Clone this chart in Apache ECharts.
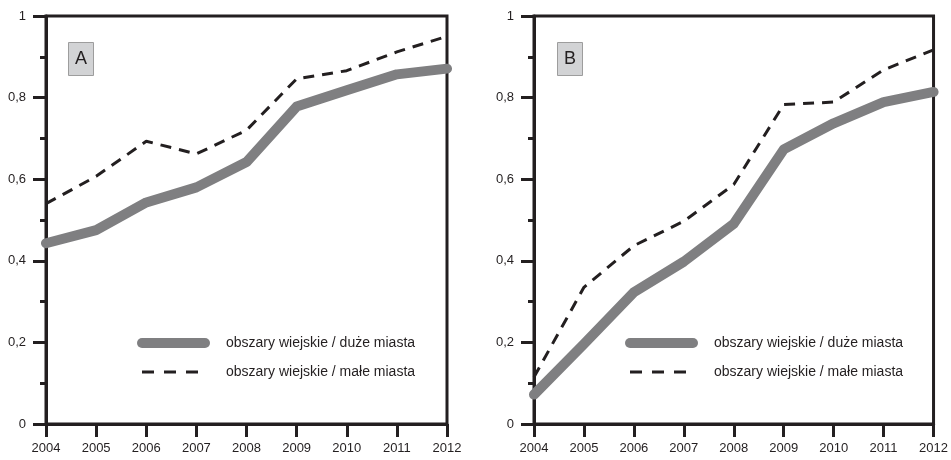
<!DOCTYPE html>
<html>
<head>
<meta charset="utf-8">
<script src="https://cdn.jsdelivr.net/npm/echarts@6/dist/echarts.min.js"></script>
<style>
  html, body { margin: 0; padding: 0; background: #fff; }
  #main { width: 951px; height: 460px; }
</style>
</head>
<body>
<div id="main"></div>
<script>
// lata na osi x
var years = ['2004', '2005', '2006', '2007', '2008', '2009', '2010', '2011', '2012']
// nazwy serii
var nameDuze = 'obszary wiejskie / duże miasta'
var nameMale = 'obszary wiejskie / małe miasta'
// panel A
var aDuze = [0.443, 0.475, 0.543, 0.580, 0.642, 0.778, 0.818, 0.857, 0.871]
var aMale = [0.540, 0.607, 0.693, 0.662, 0.720, 0.846, 0.866, 0.912, 0.950]
// panel B
var bDuze = [0.072, 0.196, 0.323, 0.398, 0.491, 0.673, 0.737, 0.789, 0.814]
var bMale = [0.115, 0.335, 0.437, 0.497, 0.587, 0.783, 0.789, 0.868, 0.917]
// etykiety paneli
var panelLabels = ['A', 'B']

var ink = '#231f20'
var gray = '#7f7f81'
var font = 'Liberation Sans, Arial, sans-serif'

var grids = [
  { left: 46, top: 16, width: 401, height: 408 },
  { left: 534, top: 16, width: 400, height: 408 }
]

function makeX(i) {
  return {
    type: 'category',
    gridIndex: i,
    data: years,
    boundaryGap: false,
    axisLine: { lineStyle: { color: ink, width: 3 } },
    axisTick: { show: true, length: 13, interval: 0, lineStyle: { color: ink, width: 3 } },
    axisLabel: { interval: 0, margin: 18, fontSize: 13, color: ink, fontFamily: font },
    splitLine: { show: false }
  }
}

function makeY(i) {
  return {
    type: 'value',
    gridIndex: i,
    min: 0,
    max: 1,
    interval: 0.2,
    axisLine: { show: true, lineStyle: { color: ink, width: 3 } },
    axisTick: { show: true, length: 13, lineStyle: { color: ink, width: 3 } },
    minorTick: { show: true, splitNumber: 2, length: 6, lineStyle: { color: ink, width: 3 } },
    axisLabel: {
      margin: 20, fontSize: 13, color: ink, fontFamily: font,
      formatter: function (v) { return String(+v.toFixed(1)).replace('.', ',') }
    },
    splitLine: { show: false },
    minorSplitLine: { show: false }
  }
}

function solid(i, data) {
  return {
    name: nameDuze, type: 'line', xAxisIndex: i, yAxisIndex: i, data: data,
    symbol: 'none', color: gray, z: 2,
    lineStyle: { color: gray, width: 10, cap: 'round', join: 'round' }
  }
}

function dashed(i, data) {
  return {
    name: nameMale, type: 'line', xAxisIndex: i, yAxisIndex: i, data: data,
    symbol: 'none', color: ink, z: 3,
    lineStyle: { color: ink, width: 3, type: [11, 8] }
  }
}

function makeLegend(left) {
  return {
    orient: 'vertical',
    left: left,
    top: 331,
    itemWidth: 63,
    itemHeight: 14,
    itemGap: 15,
    selectedMode: false,
    textStyle: { fontSize: 14, color: ink, fontFamily: font, padding: [0, 0, 0, 16] },
    data: [
      { name: nameDuze, itemStyle: { opacity: 0 }, lineStyle: { width: 10, cap: 'round', color: gray } },
      { name: nameMale, itemStyle: { opacity: 0 }, lineStyle: { width: 3, type: [12, 10], color: ink } }
    ]
  }
}

function makeTitle(text, left) {
  return {
    text: text,
    left: left,
    top: 42,
    padding: [8, 7, 8, 7],
    backgroundColor: '#d2d3d5',
    borderColor: '#9d9d9d',
    borderWidth: 1,
    textStyle: { fontSize: 18, fontWeight: 'normal', color: ink, fontFamily: font, lineHeight: 18 }
  }
}

var myChart = echarts.init(document.getElementById('main'), null, { renderer: 'canvas' })

var option = {
  backgroundColor: '#fff',
  animation: false,
  title: [makeTitle(panelLabels[0], 68), makeTitle(panelLabels[1], 557)],
  legend: [makeLegend(132), makeLegend(620)],
  grid: grids.map(function (g) {
    return Object.assign({ show: true, borderColor: ink, borderWidth: 3, backgroundColor: 'transparent' }, g)
  }),
  xAxis: [makeX(0), makeX(1)],
  yAxis: [makeY(0), makeY(1)],
  series: [
    solid(0, aDuze), dashed(0, aMale),
    solid(1, bDuze), dashed(1, bMale)
  ]
}

myChart.setOption(option)
</script>
</body>
</html>
